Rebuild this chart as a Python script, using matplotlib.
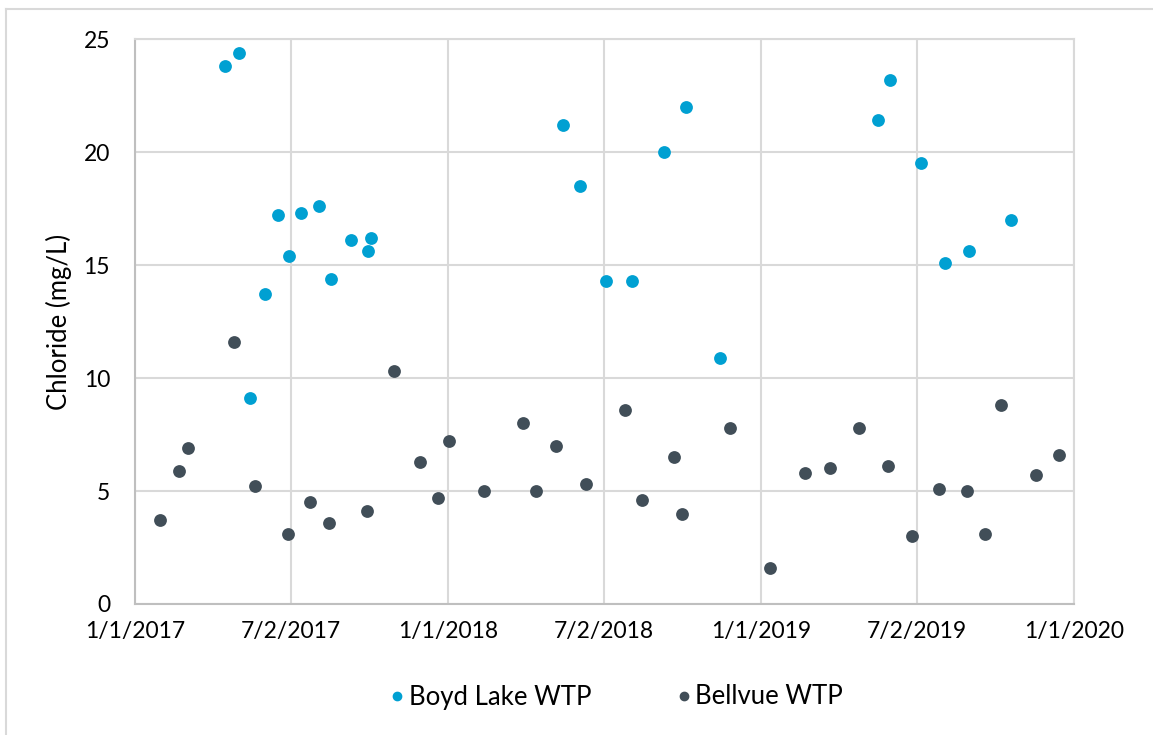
import pandas as pd
import matplotlib.pyplot as plt
from matplotlib.lines import Line2D

# --- Dados ---
boyd_dates = ["2017-04-16", "2017-05-02", "2017-05-15", "2017-06-02", "2017-06-17",
              "2017-06-30", "2017-07-14", "2017-08-04", "2017-08-17", "2017-09-10",
              "2017-09-30", "2017-10-03",
              "2018-05-15", "2018-06-04", "2018-07-04", "2018-08-04", "2018-09-10",
              "2018-10-06", "2018-11-14",
              "2019-05-18", "2019-06-01", "2019-07-06", "2019-08-04", "2019-09-01",
              "2019-10-19"]
boyd_values = [23.8, 24.4, 9.1, 13.7, 17.2,
               15.4, 17.3, 17.6, 14.4, 16.1,
               15.6, 16.2,
               21.2, 18.5, 14.3, 14.3, 20.0,
               22.0, 10.9,
               21.4, 23.2, 19.5, 15.1, 15.6,
               17.0]

bellvue_dates = ["2017-01-30", "2017-02-21", "2017-03-04", "2017-04-26", "2017-05-21",
                 "2017-06-29", "2017-07-24", "2017-08-15", "2017-09-29", "2017-10-30",
                 "2017-11-29", "2017-12-20",
                 "2018-01-02", "2018-02-12", "2018-03-30", "2018-04-14", "2018-05-07",
                 "2018-06-11", "2018-07-26", "2018-08-15", "2018-09-21", "2018-10-01",
                 "2018-11-26",
                 "2019-01-12", "2019-02-21", "2019-03-23", "2019-04-25", "2019-05-29",
                 "2019-06-26", "2019-07-27", "2019-08-29", "2019-09-19", "2019-10-08",
                 "2019-11-18", "2019-12-14"]
bellvue_values = [3.7, 5.9, 6.9, 11.6, 5.2,
                  3.1, 4.5, 3.6, 4.1, 10.3,
                  6.3, 4.7,
                  7.2, 5.0, 8.0, 5.0, 7.0,
                  5.3, 8.6, 4.6, 6.5, 4.0,
                  7.8,
                  1.6, 5.8, 6.0, 7.8, 6.1,
                  3.0, 5.1, 5.0, 3.1, 8.8,
                  5.7, 6.6]

tick_dates = ["2017-01-01", "2017-07-02", "2018-01-01", "2018-07-02",
              "2019-01-01", "2019-07-02", "2020-01-01"]
tick_labels = ["1/1/2017", "7/2/2017", "1/1/2018", "7/2/2018",
               "1/1/2019", "7/2/2019", "1/1/2020"]
y_ticks = [0, 5, 10, 15, 20, 25]

cor_boyd = "#00a0d2"
cor_bell = "#414e58"
cor_grade = "#d9d9d9"

plt.rcParams['font.family'] = ['Lato', 'DejaVu Sans']

# --- Gráfico ---
fig = plt.figure(figsize=(11.53, 7.35), dpi=100)
ax = fig.add_axes([135 / 1153, 1 - 604 / 735, (1074 - 135) / 1153, (604 - 39) / 735])

ax.scatter(pd.to_datetime(boyd_dates), boyd_values, s=85, color=cor_boyd,
           linewidths=0, zorder=3)
ax.scatter(pd.to_datetime(bellvue_dates), bellvue_values, s=85, color=cor_bell,
           linewidths=0, zorder=3)

ax.set_xlim(pd.Timestamp("2017-01-01"), pd.Timestamp("2020-01-01"))
ax.set_ylim(0, 25)
ax.set_xticks(pd.to_datetime(tick_dates))
ax.set_xticklabels(tick_labels)
ax.set_yticks(y_ticks)
ax.tick_params(axis='both', length=0, labelsize=16.5, colors='black')
ax.tick_params(axis='x', pad=12)
ax.tick_params(axis='y', pad=18)

ax.grid(True, color=cor_grade, linewidth=1.5)
ax.set_axisbelow(True)
for lado in ['top', 'right']:
    ax.spines[lado].set_color(cor_grade)
    ax.spines[lado].set_linewidth(1.5)
for lado in ['left', 'bottom']:
    ax.spines[lado].set_color("#bfbfbf")
    ax.spines[lado].set_linewidth(1.5)

ax.set_ylabel("Chloride (mg/L)", fontsize=18.5, labelpad=8)

# legenda
handles = [Line2D([], [], marker='o', linestyle='', color=cor_boyd, markersize=6),
           Line2D([], [], marker='o', linestyle='', color=cor_bell, markersize=6)]
fig.legend(handles, ["Boyd Lake WTP", "Bellvue WTP"], loc='center',
           bbox_to_anchor=(615 / 1153, 1 - 697 / 735), ncol=2, frameon=False,
           fontsize=18.5, handletextpad=0.05, columnspacing=3.2, handlelength=0.8)

# borda da área do gráfico
fig.add_artist(Line2D([6 / 1153, 6 / 1153], [0, 1 - 9 / 735], color=cor_grade,
                      linewidth=1.5, transform=fig.transFigure))
fig.add_artist(Line2D([6 / 1153, 1], [1 - 9 / 735, 1 - 9 / 735], color=cor_grade,
                      linewidth=1.5, transform=fig.transFigure))

fig.savefig("out.png", dpi=100)
